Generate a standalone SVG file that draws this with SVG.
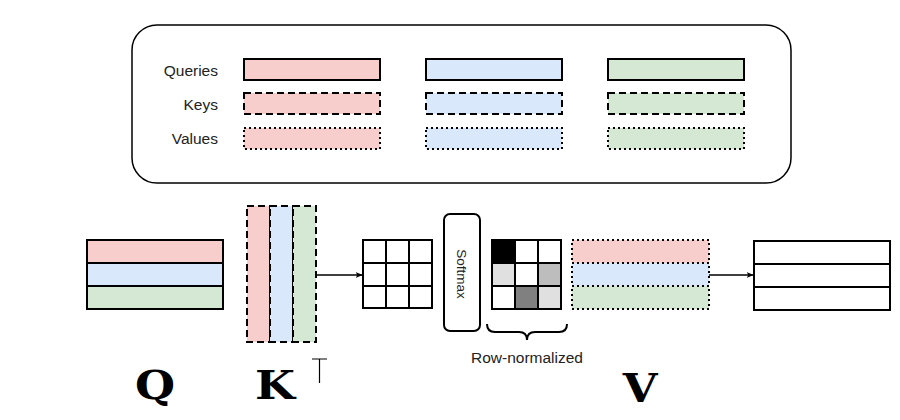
<svg xmlns="http://www.w3.org/2000/svg" width="900" height="420" viewBox="0 0 900 420">
<defs>
<style>
.lbl{font-family:"Liberation Sans",Arial,sans-serif;font-size:15.5px;fill:#222}
.sm{font-family:"Liberation Sans",Arial,sans-serif;font-size:13.5px;fill:#222}
.math{font-family:"DejaVu Serif","Liberation Serif",serif;font-weight:bold;font-size:40px;fill:#000}
.solid{stroke:#000;stroke-width:2}
.dash{stroke:#000;stroke-width:2;stroke-dasharray:7 4}
.dot{stroke:#000;stroke-width:2;stroke-dasharray:2 3}
.r{fill:#f8cecc}.b{fill:#dae8fc}.g{fill:#d5e8d4}.w{fill:#fff}
.conn{stroke:#000;stroke-width:1.3;fill:none}
</style>
<marker id="ah" viewBox="0 0 10 10" refX="9" refY="5" markerWidth="7" markerHeight="7" orient="auto" markerUnits="userSpaceOnUse">
<path d="M0,1 L10,5 L0,9 L2.5,5 Z" fill="#000"/>
</marker>
</defs>
<rect width="900" height="420" fill="#fff"/>

<g id="legend">
<rect x="132" y="25" width="659" height="158" rx="25" fill="#fff" stroke="#000" stroke-width="1.5"/>
<text class="lbl" x="218" y="75.5" text-anchor="end">Queries</text>
<text class="lbl" x="218" y="109.5" text-anchor="end">Keys</text>
<text class="lbl" x="218" y="143.5" text-anchor="end">Values</text>
<rect class="r solid" x="244" y="59" width="136" height="21"/>
<rect class="b solid" x="426" y="59" width="136" height="21"/>
<rect class="g solid" x="608" y="59" width="136" height="21"/>
<rect class="r dash" x="244" y="93" width="136" height="21"/>
<rect class="b dash" x="426" y="93" width="136" height="21"/>
<rect class="g dash" x="608" y="93" width="136" height="21"/>
<rect class="r dot" x="244" y="128" width="136" height="21"/>
<rect class="b dot" x="426" y="128" width="136" height="21"/>
<rect class="g dot" x="608" y="128" width="136" height="21"/>
</g>

<g id="Q">
<rect class="r solid" x="87" y="240" width="136" height="23"/>
<rect class="b solid" x="87" y="263" width="136" height="23"/>
<rect class="g solid" x="87" y="286" width="136" height="23"/>
<text class="math" text-anchor="middle" transform="translate(155,399) scale(1.15,1)">Q</text>
</g>

<g id="KT">
<rect class="r dash" x="247" y="206" width="23" height="136"/>
<rect class="b dash" x="270" y="206" width="23" height="136"/>
<rect class="g dash" x="293" y="206" width="23" height="136"/>
<text class="math" text-anchor="middle" transform="translate(275,399) scale(1.15,1)">K</text>
<path d="M312,359 H327 M319.5,359 V383" stroke="#000" stroke-width="1.2" fill="none"/>
</g>

<g id="scores">
<rect class="w solid" x="363" y="240" width="69" height="68"/>
<path class="solid" d="M386,240 V308 M409,240 V308 M363,263 H432 M363,286 H432" fill="none"/>
</g>

<g id="softmax">
<rect x="444" y="214" width="36" height="117" rx="6" fill="#fff" stroke="#000" stroke-width="2"/>
<text class="sm" x="0" y="0" text-anchor="middle" transform="translate(457,274) rotate(90)">Softmax</text>
</g>

<g id="attn">
<rect x="492" y="240" width="23" height="23" fill="#000"/>
<rect x="515" y="240" width="23" height="23" fill="#fff"/>
<rect x="538" y="240" width="23" height="23" fill="#fff"/>
<rect x="492" y="263" width="23" height="23" fill="#e0e0e0"/>
<rect x="515" y="263" width="23" height="23" fill="#fff"/>
<rect x="538" y="263" width="23" height="23" fill="#bdbdbd"/>
<rect x="492" y="286" width="23" height="23" fill="#fff"/>
<rect x="515" y="286" width="23" height="23" fill="#808080"/>
<rect x="538" y="286" width="23" height="23" fill="#e0e0e0"/>
<rect x="492" y="240" width="69" height="69" fill="none" stroke="#000" stroke-width="2"/>
<path class="solid" d="M515,240 V309 M538,240 V309 M492,263 H561 M492,286 H561" fill="none"/>
<path d="M487,324 Q487,332 495,332 H519 Q527,332 527,340 Q527,332 535,332 H559 Q567,332 567,324" fill="none" stroke="#000" stroke-width="2"/>
<text class="lbl" x="527" y="363" text-anchor="middle">Row-normalized</text>
</g>

<g id="V">
<rect class="r dot" x="572" y="240" width="137" height="23"/>
<rect class="b dot" x="572" y="263" width="137" height="23"/>
<rect class="g dot" x="572" y="286" width="137" height="23"/>
<text class="math" text-anchor="middle" font-size="46" transform="translate(640,402) scale(1.12,1)">V</text>
</g>

<g id="output">
<rect class="w solid" x="754" y="241" width="136" height="69"/>
<path class="solid" d="M754,264 H890 M754,287 H890" fill="none"/>
</g>

<g id="connectors">
<line class="conn" x1="316" y1="275" x2="362" y2="275" marker-end="url(#ah)"/>
<line class="conn" x1="709" y1="275" x2="753" y2="275" marker-end="url(#ah)"/>
</g>
</svg>
